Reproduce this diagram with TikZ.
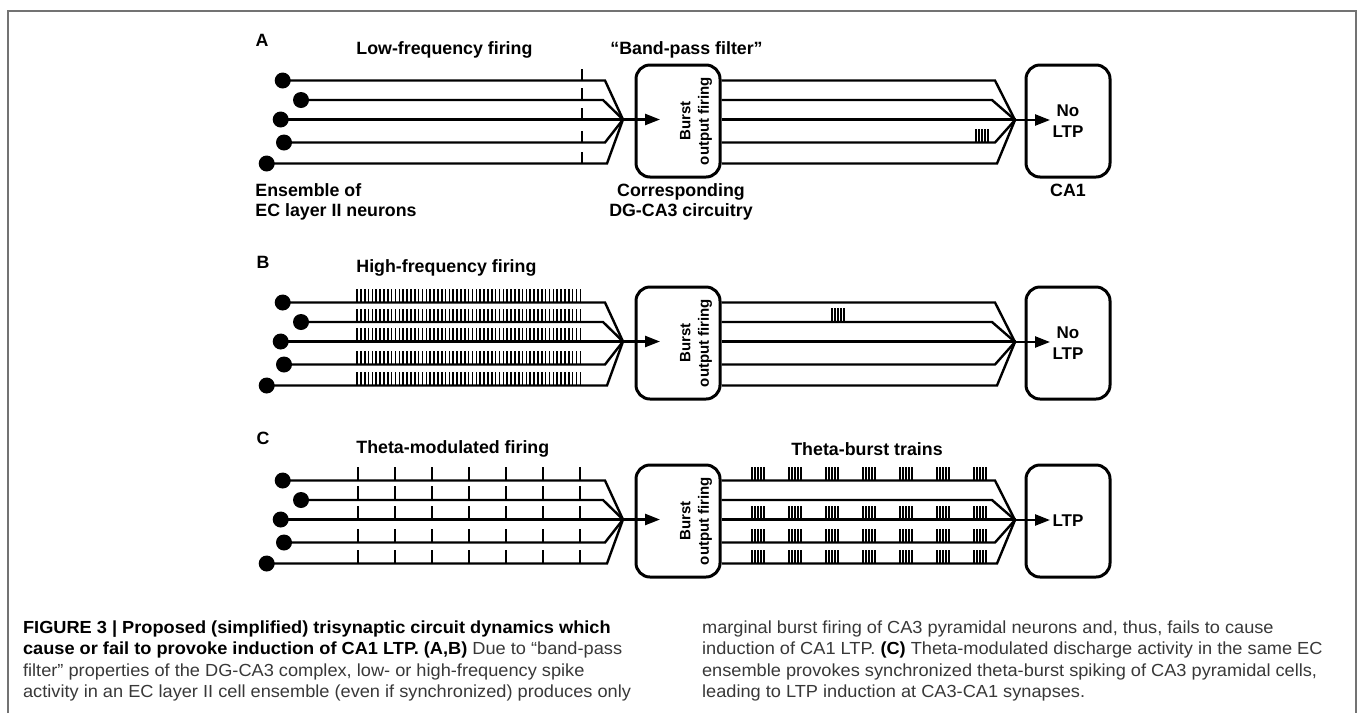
\documentclass[tikz,border=0pt]{standalone}
\usepackage{fontspec}
\setmainfont{Liberation Sans}
\newfontfamily\capfont[FakeStretch=1.04]{Liberation Sans}
\usetikzlibrary{positioning,arrows.meta}

\tikzset{
  frame/.style={draw=black!55,line width=1pt},
  neuron/.style={circle,fill=black,inner sep=0pt,minimum size=8pt},
  area/.style={draw,line width=1.5pt,rounded corners=7pt,minimum width=42pt,minimum height=56pt,
    align=center,font=\bfseries\fontsize{8.5}{10.5}\selectfont},
  fibre/.style={line width=1.2pt},
  flow/.style={fibre,-{Triangle[length=7.5pt,width=5.5pt]}},
  spike/.style={line width=0.9pt},
  fast/.style={line width=0.6pt},
  dense/.style={line width=0.8pt},
  lbl/.style={font=\bfseries\fontsize{8.9}{10}\selectfont,inner sep=0pt},
  captext/.style={font=\capfont\fontsize{8.75}{10.75}\selectfont,align=left,inner sep=0pt,text=black!78},
}
\newcommand{\burst}[2]{\foreach \k in {0,...,4} \draw[fast] (#1+3*\k,#2) -- ++(0,-14);}

\begin{document}
\begin{tikzpicture}[x=0.5pt,y=-0.5pt]
  \useasboundingbox (0,0) rectangle (1358,713);

  % Rámeček
  \draw[frame] (7.5,713) -- (7.5,11) -- (1356,11) -- (1356,713);

  % Kostra tří panelů
  \foreach \p/\dy in {A/0,B/222,C/400} {
    \node[area] (dg\p) at (678,121+\dy) {};
    \node[lbl,rotate=90,align=center,font=\bfseries\fontsize{7.5}{9.2}\selectfont] (bof\p) at (696,121+\dy) {Burst\\output firing};
    \coordinate (in\p) at (623,119.5+\dy);
    \coordinate (out\p) at (1015,120+\dy);
    \foreach \i/\xd/\xb/\xo/\yy in {1/282.7/605/995/80.5, 2/301/603/992/100, 3/280.7/623/1015/119.5,
                                   4/284/605/995/142.5, 5/266.7/607/997/163.5} {
      \node[neuron] (n\p\i) at (\xd,\yy+\dy) {};
      \draw[fibre] (n\p\i.center) -- (\xb,\yy+\dy) -- (in\p);
      \draw[fibre] (dg\p.east |- n\p\i) -- (\xo,\yy+\dy) -- (out\p);
    }
    \draw[flow] (in\p) -- ++(37,0);
  }

  % CA1
  \node[area] (caA) at (1068,121) {No\\LTP};
  \node[area] (caB) at (1068,343) {No\\LTP};
  \node[area] (caC) at (1068,521) {LTP};
  \draw[flow] (outA) -- ++(35,0);
  \draw[flow] (outB) -- ++(35,0);
  \draw[flow] (outC) -- ++(35,0);

  % A - nízká frekvence
  \node[lbl] (tA) at (262,40) {A};
  \node[lbl,anchor=west] (lowA) at (356,50) {Low-frequency firing};
  \node[lbl] (bpA) at (686.5,50) {``Band-pass filter''};
  \node[lbl,anchor=west,align=left] (ecA) at (255,201.7) {Ensemble of\\EC layer II neurons};
  \node[lbl,align=center] (dgtA) at (681,201.7) {Corresponding\\DG-CA3 circuitry};
  \node[lbl] (ca1A) at (1068,190.7) {CA1};
  \foreach \yy in {80.5,100,119.5,142.5,163.5} \draw[spike] (582,\yy) -- ++(0,-12);
  \burst{976}{142.5}

  % B - vysoká frekvence
  \node[lbl] (tB) at (263,262) {B};
  \node[lbl,anchor=west] (highB) at (356,268) {High-frequency firing};
  \foreach \yy in {302.5,322,341.5,364.5,385.5}
    \foreach \xx in {357,360.85,...,584} \draw[dense] (\xx,\yy) -- ++(0,-13.5);
  \burst{832}{322}

  % C - theta
  \node[lbl] (tC) at (263,438) {C};
  \node[lbl,anchor=west] (thC) at (356,449) {Theta-modulated firing};
  \node[lbl] (tbC) at (867,449) {Theta-burst trains};
  \foreach \yy in {480.5,500,519.5,542.5,563.5}
    \foreach \xx in {358,395,...,581} \draw[spike] (\xx,\yy) -- ++(0,-14);
  \foreach \yy in {480.5,519.5,542.5,563.5}
    \foreach \xx in {752,789,...,975} {\burst{\xx}{\yy}}

  % Popisek
  \node[captext,anchor=base west] (capL) at (22.7,697.5) {\textbf{\color{black}FIGURE 3 | Proposed (simplified) trisynaptic circuit dynamics which}\\
    \textbf{\color{black}cause or fail to provoke induction of CA1 LTP. (A,B)} Due to “band-pass\\
    filter” properties of the DG-CA3 complex, low- or high-frequency spike\\
    activity in an EC layer II cell ensemble (even if synchronized) produces only};
  \node[captext,anchor=base west] (capR) at (701.7,697.5) {marginal burst firing of CA3 pyramidal neurons and, thus, fails to cause\\
    induction of CA1 LTP. \textbf{\color{black}(C)} Theta-modulated discharge activity in the same EC\\
    ensemble provokes synchronized theta-burst spiking of CA3 pyramidal cells,\\
    leading to LTP induction at CA3-CA1 synapses.};
\end{tikzpicture}
\end{document}
